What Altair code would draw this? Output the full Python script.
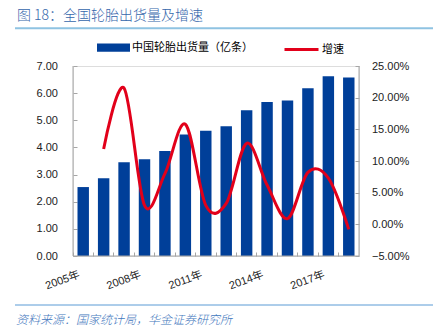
import json
import altair as alt
import pandas as pd

# ---------------- data ----------------
years = ["2005年", "2006年", "2007年", "2008年", "2009年", "2010年", "2011年",
         "2012年", "2013年", "2014年", "2015年", "2016年", "2017年", "2018年"]
output = [2.54, 2.86, 3.45, 3.56, 3.87, 4.48, 4.61, 4.78, 5.37, 5.67, 5.73, 6.18, 6.62, 6.58]
growth = [None, 11.9, 21.5, 3.0, 8.0, 15.8, 3.0, 3.3, 12.8, 6.2, 0.9, 8.2, 7.3, -0.8]
label_years = ["2005年", "2008年", "2011年", "2014年", "2017年"]
left_ticks = [0, 1, 2, 3, 4, 5, 6, 7]
right_ticks = [-5, 0, 5, 10, 15, 20, 25]
bar_name = "中国轮胎出货量（亿条）"
line_name = "增速"
title_text = "图 18：全国轮胎出货量及增速"
source_text = "资料来源：国家统计局，华金证券研究所"

# ---------------- style ----------------
W, H = 286, 190
NUM_FONT = "Liberation Sans, Noto Sans CJK SC"
CJK_FONT = "Noto Sans CJK SC"
BAR_COLOR = "#003f99"
LINE_COLOR = "#e2001a"
AXIS_GRAY = "#a6a6a6"
TITLE_BLUE = "#3566ab"

bar_df = pd.DataFrame({"year": years, "output": output, "series": bar_name})
line_df = pd.DataFrame({"year": years, "growth": growth, "series": line_name}).dropna()

label_expr = "indexof(%s, datum.value) >= 0 ? datum.value : ''" % json.dumps(label_years, ensure_ascii=False)

x_enc = alt.X(
    "year:N", sort=years,
    scale=alt.Scale(paddingInner=0, paddingOuter=0),
    axis=alt.Axis(
        title=None, domain=False, ticks=True, tickSize=4, tickColor=AXIS_GRAY,
        offset=-4, bandPosition=0, labelExpr=label_expr, labelAngle=-20,
        labelAlign="right", labelBaseline="middle", labelOffset=-4,
        labelPadding=18, labelOverlap=False, labelFont=NUM_FONT, labelFontSize=11,
        labelColor="#222222",
    ),
)

bars = alt.Chart(bar_df).mark_bar(width=alt.RelativeBandSize(0.56)).encode(
    x=x_enc,
    y=alt.Y(
        "output:Q",
        scale=alt.Scale(domain=[0, 7], nice=False, zero=True),
        axis=alt.Axis(
            orient="left", title=None, values=left_ticks, format=".2f", domain=False,
            tickSize=4, tickColor=AXIS_GRAY, offset=-4, labelPadding=15.5,
            labelFont=NUM_FONT, labelFontSize=11, labelColor="#222222", grid=False,
        ),
    ),
    color=alt.Color(
        "series:N",
        scale=alt.Scale(domain=[bar_name], range=[BAR_COLOR]),
        legend=alt.Legend(
            orient="none", legendX=24, legendY=-35, title=None, padding=0,
            symbolType="M-1,-0.25H1V0.25H-1Z", symbolSize=1089, symbolStrokeWidth=0,
            labelOffset=2, labelFont=CJK_FONT, labelFontSize=11, labelColor="#000000",
        ),
    ),
)

line = alt.Chart(line_df).mark_line(interpolate="cardinal", strokeWidth=3).encode(
    x=x_enc,
    y=alt.Y(
        "growth:Q",
        scale=alt.Scale(domain=[-5, 25], nice=False, zero=False),
        axis=alt.Axis(
            orient="right", title=None, values=right_ticks, domain=False,
            labelExpr="format(datum.value, '.2f') + '%'",
            tickSize=4, tickColor=AXIS_GRAY, offset=-4, labelPadding=12.5,
            labelFont=NUM_FONT, labelFontSize=11, labelColor="#222222", grid=False,
        ),
    ),
    stroke=alt.Stroke(
        "series:N",
        scale=alt.Scale(domain=[line_name], range=[LINE_COLOR]),
        legend=alt.Legend(
            orient="none", legendX=210, legendY=-35, title=None, padding=0,
            symbolType="stroke", symbolSize=1156, symbolStrokeWidth=3,
            labelOffset=2, labelFont=CJK_FONT, labelFontSize=11, labelColor="#000000",
        ),
    ),
)

one = alt.Data(values=[{"k": 0}])

# axis lines (frame of the plot)
left_line = alt.Chart(one).mark_rule(color=AXIS_GRAY, strokeWidth=1).encode(
    x=alt.value(0), y=alt.value(0), y2=alt.value(H))
right_line = alt.Chart(one).mark_rule(color=AXIS_GRAY, strokeWidth=1).encode(
    x=alt.value(W), y=alt.value(0), y2=alt.value(H))
bottom_line = alt.Chart(one).mark_rule(color=AXIS_GRAY, strokeWidth=1).encode(
    x=alt.value(0), x2=alt.value(W), y=alt.value(H))

# header / footer
title_mark = alt.Chart(alt.Data(values=[{"t": title_text}])).mark_text(
    align="left", baseline="middle", font=CJK_FONT, fontSize=14, fontWeight=300,
    color=TITLE_BLUE
).encode(text="t:N", x=alt.value(-56), y=alt.value(-50.5))
title_rule = alt.Chart(one).mark_rule(color="#8fc3e2", strokeWidth=2).encode(
    x=alt.value(-58), x2=alt.value(360), y=alt.value(-37.7))
foot_rule = alt.Chart(one).mark_rule(color="#5b9bd5", strokeWidth=1).encode(
    x=alt.value(-58), x2=alt.value(360), y=alt.value(239))
foot_mark = alt.Chart(alt.Data(values=[{"t": source_text}])).mark_text(
    align="left", baseline="middle", font=CJK_FONT, fontSize=12, fontWeight=300,
    fontStyle="italic", color="#3f77bd"
).encode(text="t:N", x=alt.value(-57), y=alt.value(254))

chart = alt.layer(
    bars, line, left_line, right_line, bottom_line,
    title_mark, title_rule, foot_rule, foot_mark,
).resolve_scale(y="independent").properties(
    width=W, height=H,
    autosize=alt.AutoSizeParams(type="none"),
    padding={"left": 73, "top": 66, "right": 74, "bottom": 76},
).configure_view(stroke=None).configure(background="white")

chart.save("out.html", embed_options={"renderer": "svg", "actions": False})
